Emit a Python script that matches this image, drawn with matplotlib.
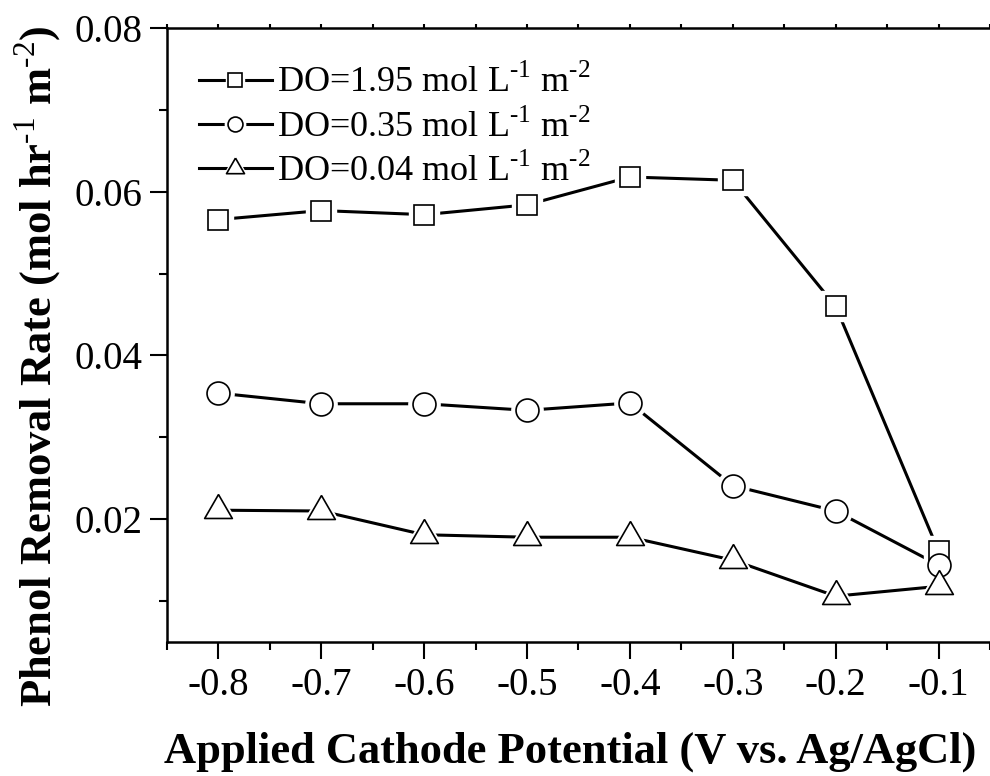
import matplotlib
matplotlib.use('Agg')
import numpy as np
import matplotlib.pyplot as plt
from matplotlib.ticker import MultipleLocator, FixedLocator
from matplotlib.legend_handler import HandlerTuple

plt.rcParams['font.family'] = 'Liberation Serif'
plt.rcParams['mathtext.fontset'] = 'custom'
plt.rcParams['mathtext.rm'] = 'Liberation Serif'
plt.rcParams['mathtext.bf'] = 'Liberation Serif:bold'

# applied potential (V vs. Ag/AgCl)
potential = [-0.8, -0.7, -0.6, -0.5, -0.4, -0.3, -0.2, -0.1]

# phenol removal rate for each DO level
rate_do195 = [0.0566, 0.0577, 0.0572, 0.0584, 0.0618, 0.0614, 0.0460, 0.0161]
rate_do035 = [0.0354, 0.0341, 0.0341, 0.0333, 0.0342, 0.0241, 0.0210, 0.0144]
rate_do004 = [0.0211, 0.0210, 0.0181, 0.0178, 0.0178, 0.0150, 0.0106, 0.0118]

labels = [r'DO=1.95 mol L$^{\text{-1}}$ m$^{\text{-2}}$',
          r'DO=0.35 mol L$^{\text{-1}}$ m$^{\text{-2}}$',
          r'DO=0.04 mol L$^{\text{-1}}$ m$^{\text{-2}}$']

# triangle centred on its centroid, like the original software
tri = [(0, 1), (-0.866, -0.5), (0.866, -0.5), (0, 1)]

fig = plt.figure(figsize=(9.9, 7.76), dpi=100)
ax = fig.add_axes([167/990, 1 - 642/776, 1 - 167/990, (642 - 28)/776])

series = [(rate_do195, 's', 15), (rate_do035, 'o', 16.5), (rate_do004, tri, 23)]
handles = []
for (y, m, ms) in series:
    ln, = ax.plot(potential, y, '-', color='black', lw=2.2, zorder=1)
    halo, = ax.plot(potential, y, ls='none', marker=m, ms=ms + 6, mfc='white',
                    mec='white', zorder=2)
    mk, = ax.plot(potential, y, ls='none', marker=m, ms=ms, mfc='white',
                  mec='black', mew=1.2, zorder=3)
    handles.append((ln, halo, mk))

ax.set_xlim(-0.85, -0.05)
ax.set_ylim(0.005, 0.08)

ax.xaxis.set_major_locator(FixedLocator(potential))
ax.xaxis.set_minor_locator(MultipleLocator(0.05))
ax.yaxis.set_major_locator(FixedLocator([0.02, 0.04, 0.06, 0.08]))
ax.yaxis.set_minor_locator(MultipleLocator(0.01))
ax.xaxis.set_major_formatter(plt.FuncFormatter(lambda v, p: '%g' % round(v, 2)))
ax.yaxis.set_major_formatter(plt.FuncFormatter(lambda v, p: '%.2f' % v))

ax.tick_params(axis='both', which='major', length=12, width=1.5, labelsize=28,
               direction='out', pad=6)
ax.tick_params(axis='both', which='minor', length=6, width=1.5, direction='out')
ax.tick_params(axis='x', which='both', top=True)

for s in ['left', 'bottom', 'top']:
    ax.spines[s].set_linewidth(1.8)
ax.spines['right'].set_visible(False)

# short top ticks
for t in ax.xaxis.get_major_ticks() + ax.xaxis.get_minor_ticks():
    t.tick2line.set_markersize(3)

ax.set_xlabel('Applied Cathode Potential (V vs. Ag/AgCl)', fontsize=32,
              fontweight='bold')
ax.set_ylabel(r'Phenol Removal Rate (mol hr$^{\mathbf{\text{-1}}}$ m$^{\mathbf{\text{-2}}}$)',
              fontsize=32, fontweight='bold')
ax.xaxis.set_label_coords(0.49, -0.145)
ax.yaxis.set_label_coords(-0.125, 0.45)

ax.legend(handles, labels, handler_map={tuple: HandlerTuple(ndivide=1)},
          loc='upper left', bbox_to_anchor=(0.013, 0.975), frameon=False,
          fontsize=26, handlelength=2.0, handletextpad=0.15, labelspacing=0.25,
          markerscale=0.65, borderaxespad=0.2)

fig.savefig('out.png', dpi=100)
